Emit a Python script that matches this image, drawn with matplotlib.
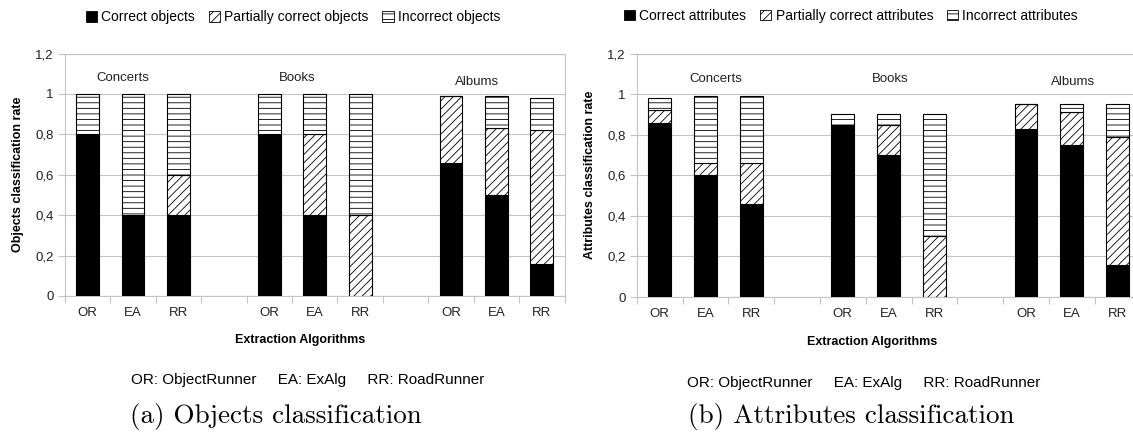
import matplotlib
matplotlib.use('Agg')
import matplotlib.pyplot as plt
from matplotlib.patches import Patch
import numpy as np

plt.rcParams['font.family'] = ['Liberation Sans Narrow', 'Liberation Sans', 'DejaVu Sans']
plt.rcParams['hatch.linewidth'] = 0.6

# data
algos = ['OR', 'EA', 'RR']
groups = ['Concerts', 'Books', 'Albums']
positions = [0, 1, 2, 4, 5, 6, 8, 9, 10]

obj_correct = [0.80, 0.40, 0.40, 0.80, 0.40, 0.00, 0.66, 0.50, 0.16]
obj_partial = [0.00, 0.00, 0.20, 0.00, 0.40, 0.40, 0.33, 0.33, 0.66]
obj_incorrect = [0.20, 0.60, 0.40, 0.20, 0.20, 0.60, 0.00, 0.16, 0.16]

att_correct = [0.86, 0.60, 0.46, 0.85, 0.70, 0.00, 0.83, 0.75, 0.16]
att_partial = [0.06, 0.06, 0.20, 0.00, 0.15, 0.30, 0.12, 0.16, 0.63]
att_incorrect = [0.06, 0.33, 0.33, 0.05, 0.05, 0.60, 0.00, 0.04, 0.16]

obj_legend = ['Correct objects', 'Partially correct objects', 'Incorrect objects']
att_legend = ['Correct attributes', 'Partially correct attributes', 'Incorrect attributes']

grid_col = '#c4c4c4'
txt_col = '#222222'

fig = plt.figure(figsize=(11.33, 4.34), dpi=100)

W, H = 1133.0, 434.0


def draw_panel(ax, correct, partial, incorrect, ylabel, label_pos):
    correct = np.array(correct)
    partial = np.array(partial)
    incorrect = np.array(incorrect)
    w = 0.5
    ax.bar(positions, correct, w, color='black', edgecolor='black', lw=0.8, zorder=3)
    ax.bar(positions, partial, w, bottom=correct, color='white', edgecolor='black',
           hatch='////', lw=0.8, zorder=3)
    ax.bar(positions, incorrect, w, bottom=correct + partial, color='white',
           edgecolor='black', hatch='---', lw=0.8, zorder=3)

    ax.set_xlim(-0.5, 10.5)
    ax.set_ylim(0, 1.2)
    ax.set_yticks(np.arange(0, 1.21, 0.2))
    ax.set_yticklabels(['0', '0,2', '0,4', '0,6', '0,8', '1', '1,2'])
    ax.yaxis.grid(True, color=grid_col, lw=0.8, zorder=0)
    ax.set_xticks(positions)
    ax.set_xticklabels(algos * 3)
    ax.set_xticks(np.arange(-0.5, 10.6, 1), minor=True)
    ax.tick_params(axis='x', which='major', length=0, pad=8, labelsize=9.5, labelcolor=txt_col)
    ax.tick_params(axis='x', which='minor', length=5, color=grid_col, width=0.8)
    ax.tick_params(axis='y', length=5, color=grid_col, width=0.8, labelsize=9.5,
                   labelcolor=txt_col, pad=3)
    for s in ax.spines.values():
        s.set_color(grid_col)
        s.set_linewidth(0.8)
    ax.set_ylabel(ylabel, fontsize=9, fontweight='bold', color='black', labelpad=8)
    for g, (x, y) in zip(groups, label_pos):
        ax.text(x, y, g, ha='center', va='center', fontsize=9.5, color=txt_col)


ax1 = fig.add_axes([65 / W, 1 - 296 / H, 499.5 / W, 242.4 / H])
draw_panel(ax1, obj_correct, obj_partial, obj_incorrect,
           'Objects classification rate',
           [(0.77, 1.077), (4.61, 1.077), (8.57, 1.061)])

ax2 = fig.add_axes([636.7 / W, 1 - 297 / H, 503.8 / W, 243.4 / H])
draw_panel(ax2, att_correct, att_partial, att_incorrect,
           'Attributes classification rate',
           [(1.22, 1.077), (5.04, 1.077), (9.02, 1.060)])
ax2.spines['right'].set_visible(False)


def handles():
    return [Patch(facecolor='black', edgecolor='black', lw=0.6),
            Patch(facecolor='white', edgecolor='black', hatch='////', lw=0.6),
            Patch(facecolor='white', edgecolor='black', hatch='---', lw=0.6)]


for labels, cx, cy in [(obj_legend, 293, 17.5), (att_legend, 851, 16)]:
    fig.legend(handles(), labels, loc='center', bbox_to_anchor=(cx / W, 1 - cy / H),
               ncol=3, frameon=False, fontsize=10, handlelength=0.8, handleheight=0.8,
               handletextpad=0.3, columnspacing=1.0)

# axis titles and captions below each panel
fig.text(300 / W, 1 - 340 / H, 'Extraction Algorithms', ha='center', va='center',
         fontsize=9, fontweight='bold')
fig.text(872 / W, 1 - 342 / H, 'Extraction Algorithms', ha='center', va='center',
         fontsize=9, fontweight='bold')
fig.text(308 / W, 1 - 380 / H, 'OR: ObjectRunner     EA: ExAlg     RR: RoadRunner',
         ha='center', va='center', fontsize=11)
fig.text(864 / W, 1 - 383 / H, 'OR: ObjectRunner     EA: ExAlg     RR: RoadRunner',
         ha='center', va='center', fontsize=11)
fig.text(276 / W, 1 - 416 / H, '(a) Objects classification', ha='center', va='center',
         fontsize=19.5, family='cmr10')
fig.text(851 / W, 1 - 416 / H, '(b) Attributes classification', ha='center', va='center',
         fontsize=19.5, family='cmr10')

fig.savefig('out.png', dpi=100)
